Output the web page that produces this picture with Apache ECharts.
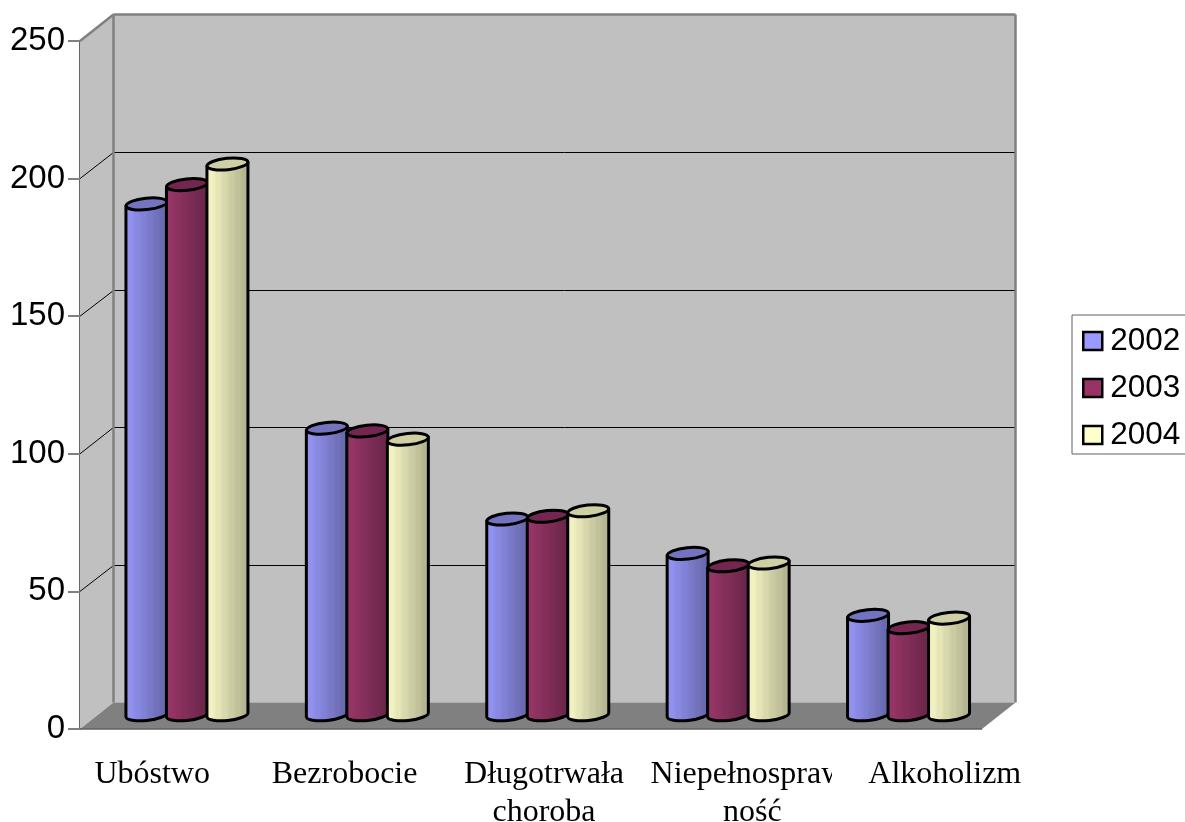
<!DOCTYPE html>
<html>
<head>
<meta charset="utf-8">
<style>html,body{margin:0;padding:0;background:#fff;overflow:hidden}#chart{width:1185px;height:822px}</style>
<script src="https://cdn.jsdelivr.net/npm/echarts@6/dist/echarts.min.js"></script>
</head>
<body>
<div id="chart"></div>
<script>
// Problems reported, by year
const categories = ['Ubóstwo', 'Bezrobocie', 'Długotrwała\nchoroba', 'Niepełnospraw\nność', 'Alkoholizm'];
const values2002 = [186, 104.5, 71.5, 59, 36.5];
const values2003 = [193, 103.5, 72.5, 54.5, 32];
const values2004 = [200.5, 100.5, 74.5, 55.5, 35.5];
const years = ['2002', '2003', '2004'];
const gridTicks = [50, 100, 150, 200];

// Depth of the fake 3D box and cylinder geometry, in pixels
const DEPTH_X = 33.5, DEPTH_Y = -26.5;
const BAR_STEP = 40.5, BAR_RX = 20.5, BAR_RY = 5.7, TILT = -6;
// Label placement relative to each category centre, one entry per line
const LABEL_SHIFT = [[-18], [-6], [13, 13], [36, 41], [53]];
const LABEL_CLIP_RIGHT = 832;

// Horizontal shading of a cylinder: fades from the base colour to a darker
// tone, with narrow stripes laid over it
function cylinderStops(r, g, b, floor) {
  const marks = [0, 0.12, 0.15, 0.27, 0.3, 0.42, 0.46, 0.58, 0.61, 0.72, 0.75, 0.86, 0.89, 1];
  return marks.map((offset, i) => {
    const k = (1 - (1 - floor) * offset) * (i % 2 ? 0.975 : 1);
    return {offset, color: `rgb(${Math.round(r * k)},${Math.round(g * k)},${Math.round(b * k)})`};
  });
}
const bodyFills = [
  cylinderStops(154, 154, 255, 0.65),
  cylinderStops(158, 56, 108, 0.65),
  cylinderStops(255, 255, 204, 0.68)
];
const capFills = ['#7373bf', '#732650', '#cfcfa6'];
const legendFills = ['#9999ff', '#993366', '#ffffcc'];

function renderBox(params, api) {
  const cs = params.coordSys;
  const x0 = cs.x, x1 = cs.x + cs.width;
  const y0 = api.coord([0, 0])[1], yTop = api.coord([0, 250])[1];
  const bx0 = x0 + DEPTH_X, bx1 = x1 + DEPTH_X;
  const poly = (points, fill) => ({type: 'polygon', shape: {points}, style: {fill, stroke: null}});
  const line = (a, b, stroke, lineWidth) => ({
    type: 'line', shape: {x1: a[0], y1: a[1], x2: b[0], y2: b[1]}, style: {stroke, lineWidth}
  });
  const children = [
    poly([[x0, yTop], [bx0, yTop + DEPTH_Y], [bx0, y0 + DEPTH_Y], [x0, y0]], '#c0c0c0'),
    poly([[bx0, yTop + DEPTH_Y], [bx1, yTop + DEPTH_Y], [bx1, y0 + DEPTH_Y], [bx0, y0 + DEPTH_Y]], '#c0c0c0'),
    poly([[x0, y0], [bx0, y0 + DEPTH_Y], [bx1, y0 + DEPTH_Y], [x1, y0]], '#808080')
  ];
  gridTicks.forEach((v) => {
    const y = api.coord([0, v])[1];
    const yBack = Math.round(y + DEPTH_Y) + 0.5;
    children.push(line([x0, y], [bx0, yBack], '#000', 1));
    children.push(line([bx0, yBack], [bx1, yBack], '#000', 1));
  });
  children.push(line([x0, yTop], [bx0, yTop + DEPTH_Y], '#808080', 2.5));
  children.push(line([bx0, yTop + DEPTH_Y], [bx1, yTop + DEPTH_Y], '#808080', 2.5));
  children.push(line([bx0, yTop + DEPTH_Y], [bx0, y0 + DEPTH_Y], '#808080', 2.5));
  children.push(line([bx1, yTop + DEPTH_Y], [bx1, y0 + DEPTH_Y], '#808080', 2.5));
  children.push(line([x0, y0], [x1, y0], '#606060', 1.5));
  return {type: 'group', children};
}

function cylinderRenderer(seriesIndex) {
  return function (params, api) {
    const base = api.coord([api.value(0), 0]);
    const top = api.coord([api.value(0), api.value(1)]);
    const cx = base[0] + DEPTH_X / 2 + (seriesIndex - 1) * BAR_STEP;
    const yBase = base[1] + DEPTH_Y / 2 - 1, yTop = top[1] + DEPTH_Y / 2;
    const lift = BAR_RX * Math.sin(-TILT * Math.PI / 180);
    const body = `M${cx - BAR_RX},${yTop + lift} L${cx - BAR_RX},${yBase + lift} ` +
      `A${BAR_RX},${BAR_RY} ${TILT} 0 0 ${cx + BAR_RX},${yBase - lift} ` +
      `L${cx + BAR_RX},${yTop - lift} Z`;
    return {
      type: 'group',
      children: [
        {
          type: 'path',
          shape: {pathData: body},
          style: {
            fill: {type: 'linear', x: 0, y: 0, x2: 1, y2: 0, colorStops: bodyFills[seriesIndex]},
            stroke: '#000', lineWidth: 3, lineJoin: 'round'
          }
        },
        {
          type: 'ellipse',
          x: cx, y: yTop,
          rotation: -TILT * Math.PI / 180,
          shape: {cx: 0, cy: 0, rx: BAR_RX, ry: BAR_RY},
          style: {fill: capFills[seriesIndex], stroke: '#000', lineWidth: 3}
        }
      ]
    };
  };
}

function renderCategoryLabel(params, api) {
  const i = api.value(0);
  const c = api.coord([i, 0]);
  const children = categories[i].split('\n').map((text, line) => {
    const x = c[0] + LABEL_SHIFT[i][line];
    const y = c[1] + 46 + line * 38;
    return {
      type: 'text',
      style: {
        x, y, text,
        font: '32px "Liberation Serif"',
        fill: '#000',
        align: 'center',
        verticalAlign: 'middle'
      },
      clipPath: {type: 'rect', shape: {x: x - 130, y: y - 30, width: LABEL_CLIP_RIGHT - x + 130, height: 60}}
    };
  });
  if (i !== 3) children.forEach((el) => delete el.clipPath);
  return {type: 'group', children};
}

const seriesData = [values2002, values2003, values2004];
const chart = echarts.init(document.getElementById('chart'));
chart.setOption({
  animation: false,
  backgroundColor: '#fff',
  grid: {left: 80, right: 203, top: 41, bottom: 93},
  xAxis: {
    type: 'category',
    data: categories,
    axisLine: {show: false},
    axisTick: {show: false},
    axisLabel: {show: false}
  },
  yAxis: {
    type: 'value',
    min: 0, max: 250, interval: 50,
    splitLine: {show: false},
    axisLine: {show: true, lineStyle: {color: '#666', width: 2}},
    axisTick: {show: true, length: 12, lineStyle: {color: '#808080', width: 2}},
    axisLabel: {fontFamily: 'Liberation Sans', fontSize: 33, color: '#000', margin: 15}
  },
  legend: {
    orient: 'vertical',
    left: 1072, top: 315,
    padding: [10, 30, 3, 10],
    data: years.map((name, i) => ({
      name, icon: 'rect',
      itemStyle: {color: legendFills[i], borderColor: '#000', borderWidth: 2.5}
    })),
    itemWidth: 19, itemHeight: 18, itemGap: 15,
    backgroundColor: '#fff',
    borderColor: '#606060', borderWidth: 1,
    textStyle: {fontFamily: 'Liberation Sans', fontSize: 31.5, color: '#000', padding: [0, 0, 0, 3]}
  },
  series: [
    {type: 'custom', name: 'box', z: 1, silent: true, renderItem: renderBox, data: [[0]]},
    ...years.map((name, si) => ({
      type: 'custom',
      name,
      z: 2 + si,
      itemStyle: {color: legendFills[si]},
      renderItem: cylinderRenderer(si),
      encode: {x: 0, y: 1},
      data: seriesData[si].map((v, i) => [i, v])
    })),
    {
      type: 'custom', name: 'labels', z: 6, silent: true,
      renderItem: renderCategoryLabel,
      data: categories.map((_, i) => [i])
    }
  ]
});
</script>
</body>
</html>
